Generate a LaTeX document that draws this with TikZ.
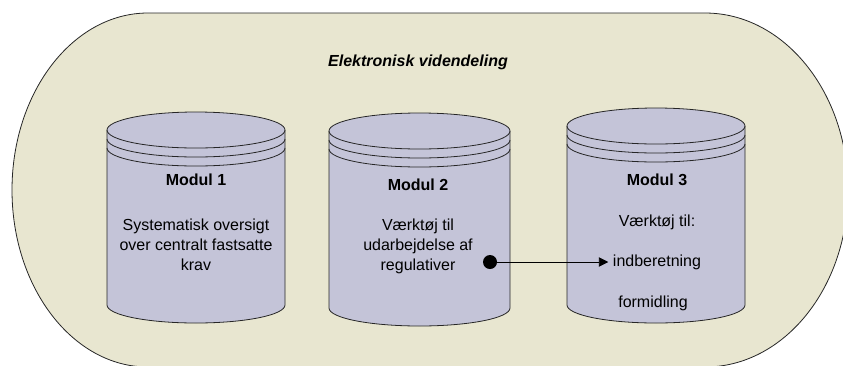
\documentclass[tikz,border=0pt]{standalone}
\usepackage{fontspec}
\setmainfont{Liberation Sans}
\usepackage{tikz}
\usetikzlibrary{calc, arrows.meta}
\definecolor{panel}{RGB}{232,230,208}
\definecolor{drumfill}{RGB}{196,196,216}

\begin{document}
\begin{tikzpicture}[x=0.75pt, y=-0.75pt]
	\tikzstyle{outline}=[draw=black!85, line width=0.6pt]
	\tikzstyle{drum}=[outline, fill=drumfill]
	\tikzstyle{title}=[font=\fontsize{12}{15}\selectfont\bfseries]
	\tikzstyle{body}=[font=\fontsize{12}{15}\selectfont, align=center]
	\def\ry{18};
	\def\ring{9};

	\useasboundingbox (0,0) rectangle (843,365);
	\clip (0,0) rectangle (843,365);

	\begin{scope}
		\draw [outline, fill=panel] (148,13) -- (705,13) arc [start angle=-90, end angle=90, x radius=143, y radius=177] -- (148,367) arc [start angle=90, end angle=270, x radius=136, y radius=177] -- cycle;
		\node (head) [font=\fontsize{12}{15}\selectfont\bfseries\itshape] at (418,62) {Elektronisk videndeling};
	\end{scope}

	\begin{scope}
		\def\cx{196}; \def\rx{89}; \def\yt{130}; \def\yb{305};
		\draw [drum] (\cx-\rx,\yt) -- (\cx-\rx,\yb) arc [start angle=180, end angle=0, x radius=\rx, y radius=\ry] -- (\cx+\rx,\yt) arc [start angle=0, end angle=-180, x radius=\rx, y radius=\ry] -- cycle;
		\draw [outline] (\cx-\rx,\yt) arc [start angle=180, end angle=0, x radius=\rx, y radius=\ry];
		\draw [outline] (\cx-\rx,\yt+\ring) arc [start angle=180, end angle=0, x radius=\rx, y radius=\ry];
		\draw [outline] (\cx-\rx,\yt+2*\ring) arc [start angle=180, end angle=0, x radius=\rx, y radius=\ry];
		\node (mod1) [title] at (\cx,180) {Modul 1};
		\node (txt1) [body] at (\cx,245) {Systematisk oversigt\\over centralt fastsatte\\krav};
	\end{scope}

	\begin{scope}
		\def\cx{419.5}; \def\rx{90.5}; \def\yt{131}; \def\yb{308};
		\draw [drum] (\cx-\rx,\yt) -- (\cx-\rx,\yb) arc [start angle=180, end angle=0, x radius=\rx, y radius=\ry] -- (\cx+\rx,\yt) arc [start angle=0, end angle=-180, x radius=\rx, y radius=\ry] -- cycle;
		\draw [outline] (\cx-\rx,\yt) arc [start angle=180, end angle=0, x radius=\rx, y radius=\ry];
		\draw [outline] (\cx-\rx,\yt+\ring) arc [start angle=180, end angle=0, x radius=\rx, y radius=\ry];
		\draw [outline] (\cx-\rx,\yt+2*\ring) arc [start angle=180, end angle=0, x radius=\rx, y radius=\ry];
		\node (mod2) [title] at (418,185) {Modul 2};
		\node (txt2) [body] at (418,246) {Værktøj til\\udarbejdelse af\\regulativer};
	\end{scope}

	\begin{scope}
		\def\cx{656}; \def\rx{89}; \def\yt{126}; \def\yb{305};
		\draw [drum] (\cx-\rx,\yt) -- (\cx-\rx,\yb) arc [start angle=180, end angle=0, x radius=\rx, y radius=\ry] -- (\cx+\rx,\yt) arc [start angle=0, end angle=-180, x radius=\rx, y radius=\ry] -- cycle;
		\draw [outline] (\cx-\rx,\yt) arc [start angle=180, end angle=0, x radius=\rx, y radius=\ry];
		\draw [outline] (\cx-\rx,\yt+\ring) arc [start angle=180, end angle=0, x radius=\rx, y radius=\ry];
		\draw [outline] (\cx-\rx,\yt+2*\ring) arc [start angle=180, end angle=0, x radius=\rx, y radius=\ry];
		\node (mod3) [title] at (657,180) {Modul 3};
		\node (tool) [body] at (657,222) {Værktøj til:};
		\node (ind) [body] at (657,262) {indberetning};
		\node (form) [body] at (653,303) {formidling};
	\end{scope}

	\begin{scope}
		\node (dot) [circle, fill=black, minimum size=10.5pt, inner sep=0pt] at (490,262) {};
		\draw [line width=0.6pt, -{Triangle[length=7pt, width=7pt]}] (dot) -- (ind);
	\end{scope}
\end{tikzpicture}
\end{document}
